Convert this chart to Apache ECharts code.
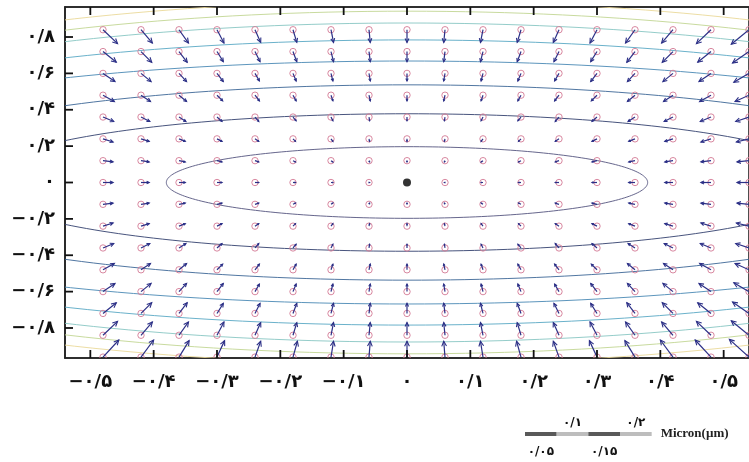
<!DOCTYPE html>
<html>
<head>
<meta charset="utf-8">
<script src="https://cdn.jsdelivr.net/npm/echarts@6/dist/echarts.min.js"></script>
<style>
  html, body { margin: 0; padding: 0; background: #fff; }
  #chart { width: 749px; height: 462px; }
</style>
</head>
<body>
<div id="chart"></div>
<script>
// Sample positions (µm)
const xs = [-0.48, -0.42, -0.36, -0.30, -0.24, -0.18, -0.12, -0.06, 0, 0.06, 0.12, 0.18, 0.24, 0.30, 0.36, 0.42, 0.48, 0.54];
const ys = [0.84, 0.72, 0.60, 0.48, 0.36, 0.24, 0.12, 0, -0.12, -0.24, -0.36, -0.48, -0.60, -0.72, -0.84, -0.96];

// Displacement components at each sample (nm), one row per ys entry
const U = [
  [23, 18, 15, 11, 9, 6, 4, 2, 0, -2, -4, -6, -9, -11, -15, -18, -23, -28],
  [21, 17, 13, 10, 8, 6, 4, 2, 0, -2, -4, -6, -8, -10, -13, -17, -21, -26],
  [19, 16, 12, 10, 7, 5, 3, 2, 0, -2, -3, -5, -7, -10, -12, -16, -19, -24],
  [18, 15, 12, 9, 7, 5, 3, 2, 0, -2, -3, -5, -7, -9, -12, -15, -18, -22],
  [17, 14, 11, 8, 6, 5, 3, 1, 0, -1, -3, -5, -6, -8, -11, -14, -17, -21],
  [16, 13, 10, 8, 6, 4, 3, 1, 0, -1, -3, -4, -6, -8, -10, -13, -16, -20],
  [16, 13, 10, 8, 6, 4, 3, 1, 0, -1, -3, -4, -6, -8, -10, -13, -16, -19],
  [16, 13, 10, 8, 6, 4, 3, 1, 0, -1, -3, -4, -6, -8, -10, -13, -16, -19],
  [16, 13, 10, 8, 6, 4, 3, 1, 0, -1, -3, -4, -6, -8, -10, -13, -16, -19],
  [16, 13, 10, 8, 6, 4, 3, 1, 0, -1, -3, -4, -6, -8, -10, -13, -16, -20],
  [17, 14, 11, 8, 6, 5, 3, 1, 0, -1, -3, -5, -6, -8, -11, -14, -17, -21],
  [18, 15, 12, 9, 7, 5, 3, 2, 0, -2, -3, -5, -7, -9, -12, -15, -18, -22],
  [19, 16, 12, 10, 7, 5, 3, 2, 0, -2, -3, -5, -7, -10, -12, -16, -19, -24],
  [21, 17, 13, 10, 8, 6, 4, 2, 0, -2, -4, -6, -8, -10, -13, -17, -21, -26],
  [23, 18, 15, 11, 9, 6, 4, 2, 0, -2, -4, -6, -9, -11, -15, -18, -23, -28],
  [25, 20, 16, 12, 9, 7, 4, 2, 0, -2, -4, -7, -9, -12, -16, -20, -25, -31]
];
const V = [
  [-22, -21, -21, -21, -20, -20, -20, -20, -20, -20, -20, -20, -20, -21, -21, -21, -22, -23],
  [-17, -17, -17, -16, -16, -16, -16, -16, -16, -16, -16, -16, -16, -16, -17, -17, -17, -18],
  [-13, -13, -13, -13, -12, -12, -12, -12, -12, -12, -12, -12, -12, -13, -13, -13, -13, -14],
  [-10, -10, -10, -9, -9, -9, -9, -9, -9, -9, -9, -9, -9, -9, -10, -10, -10, -10],
  [-7, -7, -7, -7, -7, -6, -6, -6, -6, -6, -6, -6, -7, -7, -7, -7, -7, -7],
  [-5, -4, -4, -4, -4, -4, -4, -4, -4, -4, -4, -4, -4, -4, -4, -4, -5, -5],
  [-2, -2, -2, -2, -2, -2, -2, -2, -2, -2, -2, -2, -2, -2, -2, -2, -2, -2],
  [0, 0, 0, 0, 0, 0, 0, 0, 0, 0, 0, 0, 0, 0, 0, 0, 0, 0],
  [2, 2, 2, 2, 2, 2, 2, 2, 2, 2, 2, 2, 2, 2, 2, 2, 2, 2],
  [5, 4, 4, 4, 4, 4, 4, 4, 4, 4, 4, 4, 4, 4, 4, 4, 5, 5],
  [7, 7, 7, 7, 7, 6, 6, 6, 6, 6, 6, 6, 7, 7, 7, 7, 7, 7],
  [10, 10, 10, 9, 9, 9, 9, 9, 9, 9, 9, 9, 9, 9, 10, 10, 10, 10],
  [13, 13, 13, 13, 12, 12, 12, 12, 12, 12, 12, 12, 12, 13, 13, 13, 13, 14],
  [17, 17, 17, 16, 16, 16, 16, 16, 16, 16, 16, 16, 16, 16, 17, 17, 17, 18],
  [22, 21, 21, 21, 20, 20, 20, 20, 20, 20, 20, 20, 20, 21, 21, 21, 22, 23],
  [27, 27, 26, 26, 25, 25, 25, 25, 25, 25, 25, 25, 25, 26, 26, 27, 27, 28]
];

// Iso-lines: semi-axes (µm) of each closed contour around the centre
const contourA = [0.380, 0.681, 0.874, 1.062, 1.112, 1.150, 1.180, 1.220];
const contourB = [0.197, 0.378, 0.537, 0.668, 0.784, 0.877, 0.942, 0.997];

// Centre point
const centre = [[0, 0]];

// Axis ticks and their labels
const xTickValues = [-0.5, -0.4, -0.3, -0.2, -0.1, 0, 0.1, 0.2, 0.3, 0.4, 0.5];
const xTickLabels = ['−۰/۵', '−۰/۴', '−۰/۳', '−۰/۲', '−۰/۱', '۰', '۰/۱', '۰/۲', '۰/۳', '۰/۴', '۰/۵'];
const yTickValues = [-0.8, -0.6, -0.4, -0.2, 0, 0.2, 0.4, 0.6, 0.8];
const yTickLabels = ['−۰/۸', '−۰/۶', '−۰/۴', '−۰/۲', '۰', '۰/۲', '۰/۴', '۰/۶', '۰/۸'];

// Length key (µm)
const keySteps = [0.05, 0.10, 0.15, 0.20];
const keyLabels = ['۰/۰۵', '۰/۱', '۰/۱۵', '۰/۲'];
const keyUnit = 'Micron(µm)';

const contourColors = ['#55557f', '#34416f', '#3d6797', '#4a89b5', '#5aa9c4', '#88c7c3', '#c2d693', '#ead99a'];
const labelFont = '"DejaVu Sans", "Noto Sans", sans-serif';

const chart = echarts.init(document.getElementById('chart'), null, { renderer: 'canvas' });

function tickFormatter(values, labels) {
  return function (val) {
    const i = values.findIndex(t => Math.abs(t - val) < 1e-9);
    return i >= 0 ? labels[i] : '';
  };
}

const arrowData = [];
ys.forEach((y, r) => {
  xs.forEach((x, c) => {
    if (x === 0 && y === 0) return;
    arrowData.push([x, y, U[r][c], V[r][c]]);
  });
});

const contourData = contourA.map((a, i) => [a, contourB[i], i]);

function renderContour(params, api) {
  const a = api.value(0), b = api.value(1), idx = api.value(2);
  const pts = [];
  const n = 240;
  for (let k = 0; k <= n; k++) {
    const t = (k / n) * Math.PI * 2;
    pts.push(api.coord([a * Math.cos(t), b * Math.sin(t)]));
  }
  return {
    type: 'polyline',
    shape: { points: pts },
    style: { stroke: contourColors[idx], lineWidth: 1, fill: null, opacity: 0.9 }
  };
}

function renderArrow(params, api) {
  const p = api.coord([api.value(0), api.value(1)]);
  const pxPerUm = api.size([1, 0])[0];
  const dx = api.value(2) / 1000 * pxPerUm;
  const dy = -api.value(3) / 1000 * pxPerUm;
  const len = Math.sqrt(dx * dx + dy * dy);
  const children = [{
    type: 'circle',
    shape: { cx: p[0], cy: p[1], r: 3.2 },
    style: { stroke: '#d47b95', lineWidth: 0.9, fill: null }
  }];
  if (len > 0.3) {
    const tip = [p[0] + dx, p[1] + dy];
    const ux = dx / len, uy = dy / len;
    const h = Math.min(5.5, Math.max(1.2, len * 0.35));
    const ang = 0.45;
    const c = Math.cos(ang), s = Math.sin(ang);
    const l1 = [tip[0] - h * (ux * c - uy * s), tip[1] - h * (uy * c + ux * s)];
    const l2 = [tip[0] - h * (ux * c + uy * s), tip[1] - h * (uy * c - ux * s)];
    children.push({
      type: 'line',
      shape: { x1: p[0], y1: p[1], x2: tip[0], y2: tip[1] },
      style: { stroke: '#2b2f86', lineWidth: 1.2 }
    });
    children.push({
      type: 'polyline',
      shape: { points: [l1, tip, l2] },
      style: { stroke: '#2b2f86', lineWidth: 1.1, fill: null }
    });
  }
  return { type: 'group', children: children };
}

const frameLine = { show: true, onZero: false, lineStyle: { color: '#222', width: 1.6 } };

chart.setOption({
  animation: false,
  backgroundColor: '#fff',
  grid: {
    left: 65, top: 7, width: 694, height: 351,
    show: true, borderColor: '#222', borderWidth: 1.6, backgroundColor: '#fff'
  },
  xAxis: [{
    type: 'value', min: -0.54, max: 0.54, position: 'bottom',
    axisLine: frameLine,
    splitLine: { show: false },
    axisTick: { show: false },
    axisLabel: {
      customValues: xTickValues, formatter: tickFormatter(xTickValues, xTickLabels),
      margin: 15, fontSize: 18, fontWeight: 'bold', color: '#111', fontFamily: labelFont
    }
  }, {
    type: 'value', min: -0.54, max: 0.54, position: 'top',
    axisLine: frameLine,
    splitLine: { show: false },
    axisTick: { show: false },
    axisLabel: { show: false }
  }],
  yAxis: {
    type: 'value', min: -0.965, max: 0.965, position: 'left',
    axisLine: frameLine,
    splitLine: { show: false },
    axisTick: { show: false },
    axisLabel: {
      customValues: yTickValues, formatter: tickFormatter(yTickValues, yTickLabels),
      margin: 10, fontSize: 18, fontWeight: 'bold', color: '#111', fontFamily: labelFont
    }
  },
  series: [{
    type: 'custom',
    name: 'contours',
    clip: true,
    silent: true,
    renderItem: renderContour,
    data: contourData,
    z: 1
  }, {
    type: 'custom',
    name: 'displacement',
    clip: true,
    silent: true,
    renderItem: renderArrow,
    data: arrowData,
    z: 2
  }, {
    type: 'scatter',
    name: 'centre',
    data: centre,
    symbol: 'circle',
    symbolSize: 8,
    itemStyle: { color: '#000' },
    silent: true,
    z: 3
  }]
});

const overlay = [];

// Inward tick marks on the frame, placed through the axis scales
const yBottom = chart.convertToPixel({ yAxisIndex: 0 }, -0.965);
const yTop = chart.convertToPixel({ yAxisIndex: 0 }, 0.965);
const xLeft = chart.convertToPixel({ xAxisIndex: 0 }, -0.54);
const tickLen = 8;
const tickW = 1.8;
xTickValues.forEach(v => {
  const x = chart.convertToPixel({ xAxisIndex: 0 }, v);
  overlay.push({ type: 'rect', z: 100, shape: { x: x - tickW / 2, y: yBottom - tickLen, width: tickW, height: tickLen }, style: { fill: '#111' } });
  overlay.push({ type: 'rect', z: 100, shape: { x: x - tickW / 2, y: yTop, width: tickW, height: tickLen }, style: { fill: '#111' } });
});
yTickValues.forEach(v => {
  const y = chart.convertToPixel({ yAxisIndex: 0 }, v);
  overlay.push({ type: 'rect', z: 100, shape: { x: xLeft, y: y - tickW / 2, width: tickLen, height: tickW }, style: { fill: '#111' } });
});

// Length key, drawn with the same pixel-per-µm scale as the x axis
const x0 = chart.convertToPixel({ xAxisIndex: 0 }, 0);
const pxPerUm = chart.convertToPixel({ xAxisIndex: 0 }, 1) - x0;
const keyLeft = 525, keyY = 434;
let prev = 0;
keySteps.forEach((step, i) => {
  const xStart = keyLeft + prev * pxPerUm;
  const w = (step - prev) * pxPerUm;
  overlay.push({
    type: 'rect',
    shape: { x: xStart, y: keyY - 2, width: w, height: 4 },
    style: { fill: i % 2 === 0 ? '#595959' : '#bdbdbd' }
  });
  overlay.push({
    type: 'text',
    x: xStart + w / 2,
    y: i % 2 === 0 ? keyY + 18 : keyY - 11,
    style: {
      text: keyLabels[i], fill: '#111', font: 'bold 12px ' + labelFont,
      align: 'center', verticalAlign: 'middle'
    }
  });
  prev = step;
});
overlay.push({
  type: 'text',
  x: keyLeft + keySteps[keySteps.length - 1] * pxPerUm + 9,
  y: keyY,
  style: {
    text: keyUnit, fill: '#222', font: 'bold 13px "Liberation Serif", "DejaVu Serif", serif',
    align: 'left', verticalAlign: 'middle'
  }
});
chart.setOption({ graphic: { elements: overlay } });
</script>
</body>
</html>
